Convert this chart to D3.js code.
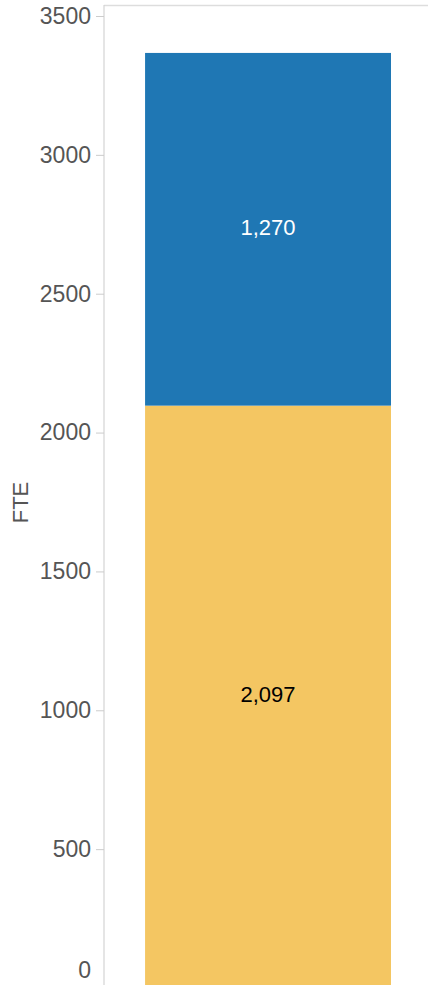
<!DOCTYPE html>
<html>
<head>
<meta charset="utf-8">
<script src="https://cdn.jsdelivr.net/npm/d3@7"></script>
<style>
  body { margin: 0; background: #fff; }
  svg { display: block; font-family: "Liberation Sans", Arial, sans-serif; }
</style>
</head>
<body>
<svg id="chart"></svg>
<script>
// data
const categories = ['Total'];
const seriesNames = ['Lower', 'Upper'];
const lowerValues = [2097];
const upperValues = [1270];
const seriesColors = ['#f4c662', '#1f77b4'];
const labelColors = ['#000', '#fff'];
const yTicks = [0, 500, 1000, 1500, 2000, 2500, 3000, 3500];

const width = 428, height = 985;
const margin = { top: 16, right: 0, bottom: -3, left: 104 };

const svg = d3.select('#chart').attr('width', width).attr('height', height);

const yScale = d3.scaleLinear()
    .domain([0, 3500])
    .range([height - margin.bottom, margin.top]);

const xScale = d3.scaleBand()
    .domain(categories)
    .range([margin.left, width])
    .paddingInner(0.2)
    .paddingOuter(0.127)
    .align(0.526);

// top frame line
svg.append('line')
    .attr('x1', margin.left).attr('x2', width)
    .attr('y1', 5.5).attr('y2', 5.5)
    .attr('stroke', '#ddd').attr('stroke-width', 1.5);

const stackData = categories.map((c, i) => ({ cat: c, Lower: lowerValues[i], Upper: upperValues[i] }));
const stacked = d3.stack().keys(seriesNames)(stackData);

const layers = svg.append('g').selectAll('g')
    .data(stacked)
    .enter().append('g')
    .attr('fill', (d, i) => seriesColors[i]);

layers.selectAll('rect')
    .data(d => d)
    .enter().append('rect')
    .attr('x', d => xScale(d.data.cat))
    .attr('width', xScale.bandwidth())
    .attr('y', d => yScale(d[1]))
    .attr('height', d => yScale(d[0]) - yScale(d[1]));

stacked.forEach((layer, i) => {
    svg.append('g').selectAll('text')
        .data(layer)
        .enter().append('text')
        .attr('x', d => xScale(d.data.cat) + xScale.bandwidth() / 2)
        .attr('y', d => yScale((d[0] + d[1]) / 2))
        .attr('dy', '0.25em')
        .attr('text-anchor', 'middle')
        .attr('font-size', '22px')
        .attr('fill', labelColors[i])
        .text(d => d3.format(',')(d[1] - d[0]));
});

// y axis
const yAxis = d3.axisLeft(yScale).tickValues(yTicks).tickFormat(d3.format('d')).tickSize(8).tickPadding(5);
const gy = svg.append('g')
    .attr('transform', `translate(${margin.left},0)`)
    .call(yAxis);
gy.select('.domain').attr('stroke', '#d4d4d4').attr('stroke-width', 1.2)
    .attr('d', `M0,${margin.top - 11}V${height}`);
gy.selectAll('.tick line').attr('stroke', '#ccc');
gy.selectAll('.tick text')
    .attr('fill', '#555')
    .attr('font-size', '23px')
    .attr('font-family', '"Liberation Sans", Arial, sans-serif')
    .attr('dy', d => d === 0 ? '-0.45em' : '0.32em');

svg.append('text')
    .attr('transform', `translate(28,${(margin.top + height) / 2 + 2}) rotate(-90)`)
    .attr('text-anchor', 'middle')
    .attr('font-size', '22px')
    .attr('fill', '#555')
    .text('FTE');
</script>
</body>
</html>
